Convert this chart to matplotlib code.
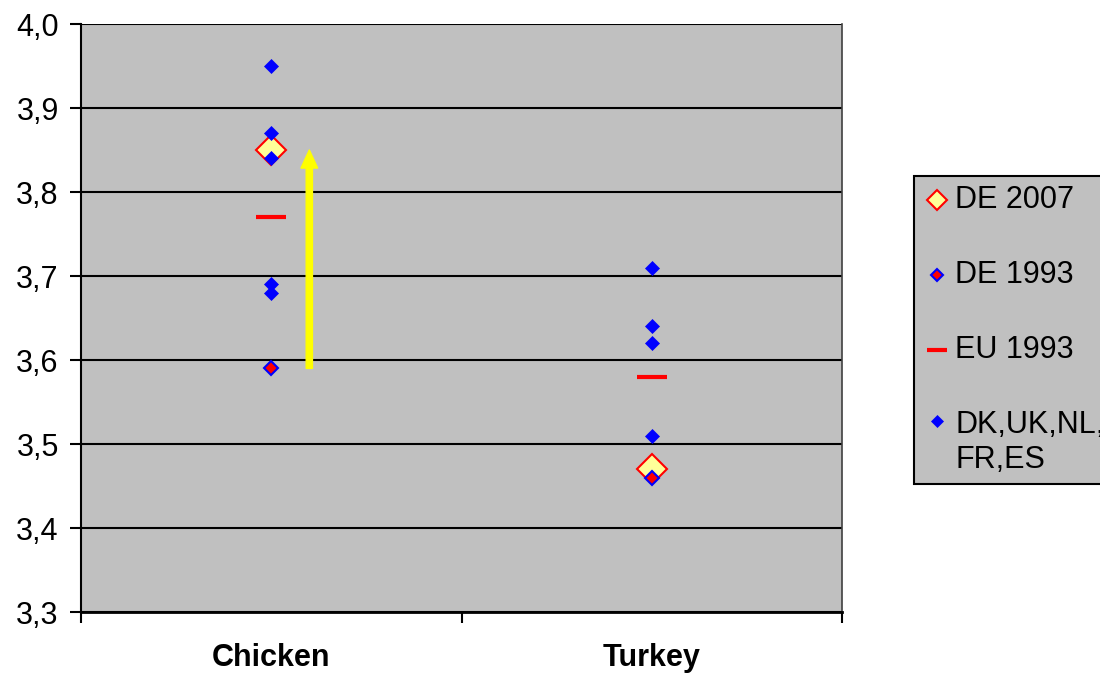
import numpy as np
import matplotlib
matplotlib.use("Agg")
import matplotlib.pyplot as plt
from matplotlib.ticker import FixedLocator, FuncFormatter

plt.rcParams["font.family"] = ["Liberation Sans", "DejaVu Sans"]

categories = ["Chicken", "Turkey"]
cat_pos = [1, 2]

# values per series (chicken, turkey)
de_2007 = [3.85, 3.47]
de_1993 = [3.59, 3.46]
eu_1993 = [3.77, 3.58]
others_chicken = [3.95, 3.87, 3.84, 3.69, 3.68]
others_turkey = [3.71, 3.64, 3.62, 3.51]

arrow_x = 1.1
arrow_from = de_1993[0]
arrow_to = de_2007[0]

y_ticks = [3.3, 3.4, 3.5, 3.6, 3.7, 3.8, 3.9, 4.0]

fig = plt.figure(figsize=(11, 6.78), dpi=100)
ax = fig.add_axes([0.0736, 0.0973, 0.692, 0.8673])
ax.set_facecolor("#c0c0c0")

ax.plot(cat_pos, de_2007, linestyle="none", marker="D", markersize=15.5,
        markerfacecolor="#ffff99", markeredgecolor="red", markeredgewidth=1.5,
        label="DE 2007", zorder=3)
ax.plot(cat_pos, de_1993, linestyle="none", marker="D", markersize=7.5,
        markerfacecolor="red", markeredgecolor="blue", markeredgewidth=1.5,
        label="DE 1993", zorder=4)
ax.plot(cat_pos, eu_1993, linestyle="none", marker="_", markersize=21,
        markeredgecolor="red", markeredgewidth=3, label="EU 1993", zorder=4)
ox = [1] * len(others_chicken) + [2] * len(others_turkey)
oy = others_chicken + others_turkey
ax.plot(ox, oy, linestyle="none", marker="D", markersize=7.5,
        markerfacecolor="blue", markeredgecolor="blue", markeredgewidth=0.5,
        label="DK,UK,NL,\nFR,ES", zorder=5)

ax.annotate("", xy=(arrow_x, arrow_to), xytext=(arrow_x, arrow_from),
            arrowprops=dict(facecolor="yellow", edgecolor="yellow",
                            width=4.5, headwidth=12, headlength=13, shrink=0),
            zorder=2)

ax.set_xlim(0.5, 2.5)
ax.set_ylim(3.3, 4.0)
ax.set_yticks(y_ticks)
ax.yaxis.set_major_formatter(FuncFormatter(lambda v, p: f"{v:.1f}".replace(".", ",")))
ax.set_xticks(cat_pos)
ax.set_xticklabels(categories, fontweight="bold")
ax.xaxis.set_minor_locator(FixedLocator([0.5, 1.5, 2.5]))
ax.tick_params(axis="x", which="major", length=0, pad=22, labelsize=22)
ax.tick_params(axis="x", which="minor", length=8, width=1.5, direction="out")
ax.tick_params(axis="y", length=8, width=1.5, pad=8, labelsize=22)

ax.grid(axis="y", color="black", linewidth=1.5, zorder=1)
ax.set_axisbelow(True)

ax.spines["left"].set_linewidth(1.5)
ax.spines["bottom"].set_linewidth(2)
ax.spines["top"].set_visible(False)
ax.spines["right"].set_color("#404040")
ax.spines["right"].set_linewidth(1.2)

leg = fig.legend(loc="upper left", bbox_to_anchor=(0.831, 0.74), fontsize=22,
                 frameon=True, fancybox=False, labelspacing=1.47,
                 handlelength=0.9, handletextpad=0.15, borderpad=0.3,
                 borderaxespad=0)
leg.get_frame().set_facecolor("#c0c0c0")
leg.get_frame().set_edgecolor("black")
leg.get_frame().set_linewidth(1.5)
leg.get_frame().set_alpha(1)
# legend symbols are drawn smaller than the plotted marks
handles = leg.legend_handles
handles[0].set_markersize(10.5)
handles[1].set_markersize(6.5)
handles[2].set_markersize(15)
handles[3].set_markersize(6.5)
# put the marker of the two-line entry next to its first line
for col in leg._legend_handle_box.get_children():
    for row in col.get_children():
        row.align = "center"
leg._legend_handle_box.get_children()[0].get_children()[3].align = "top"

fig.savefig("out.png", dpi=100)
